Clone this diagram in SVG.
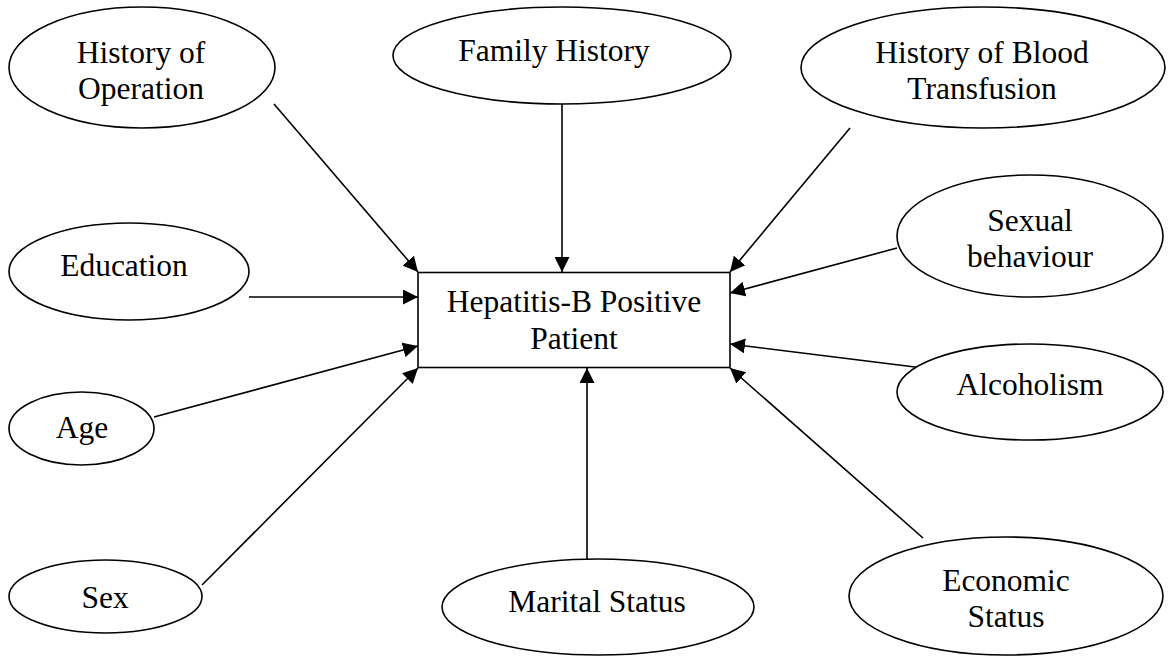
<svg xmlns="http://www.w3.org/2000/svg" width="1168" height="656" viewBox="0 0 1168 656">
<style>
.n ellipse, .n rect { fill: #fff; stroke: #000; stroke-width: 1.6; }
.t { font-family: "Liberation Serif", "Times New Roman", serif; font-size: 31.5px; fill: #000; text-anchor: middle; }
.c line { stroke: #000; stroke-width: 1.6; marker-end: url(#ah); }
</style>
<defs>
<marker id="ah" markerUnits="userSpaceOnUse" markerWidth="15" markerHeight="15" refX="15" refY="7.5" orient="auto" viewBox="0 0 15 15">
<path d="M0,0 L15,7.5 L0,15 z" fill="#000"/>
</marker>
</defs>
<rect width="1168" height="656" fill="#fff"/>
<g class="c" id="connectors">
<line x1="274" y1="104" x2="418" y2="272"/>
<line x1="562" y1="104" x2="562" y2="272"/>
<line x1="850" y1="128" x2="730" y2="272"/>
<line x1="249" y1="297" x2="418" y2="297"/>
<line x1="154" y1="417" x2="418" y2="346"/>
<line x1="202" y1="585" x2="418" y2="368"/>
<line x1="587" y1="560" x2="587" y2="368"/>
<line x1="923" y1="538" x2="730" y2="368"/>
<line x1="923" y1="368" x2="730" y2="344"/>
<line x1="897" y1="248" x2="730" y2="293"/>
</g>
<g class="n" id="center">
<rect x="418" y="272.5" width="312" height="95"/>
<text class="t" x="574" y="312">Hepatitis-B Positive</text>
<text class="t" x="574" y="349">Patient</text>
</g>
<g class="n" id="history-operation">
<ellipse cx="142" cy="67.5" rx="133" ry="60.5"/>
<text class="t" x="141" y="63">History of</text>
<text class="t" x="141" y="99">Operation</text>
</g>
<g class="n" id="family-history">
<ellipse cx="562" cy="55.5" rx="169" ry="48.5"/>
<text class="t" x="554" y="61">Family History</text>
</g>
<g class="n" id="blood-transfusion">
<ellipse cx="983" cy="67.5" rx="182" ry="60.5"/>
<text class="t" x="982" y="63">History of Blood</text>
<text class="t" x="982" y="99">Transfusion</text>
</g>
<g class="n" id="education">
<ellipse cx="129" cy="271.5" rx="120" ry="48.5"/>
<text class="t" x="124" y="276">Education</text>
</g>
<g class="n" id="sexual-behaviour">
<ellipse cx="1030" cy="236" rx="133" ry="61"/>
<text class="t" x="1030" y="231">Sexual</text>
<text class="t" x="1030" y="267">behaviour</text>
</g>
<g class="n" id="age">
<ellipse cx="81.5" cy="428.5" rx="72.5" ry="36.5"/>
<text class="t" x="82" y="438">Age</text>
</g>
<g class="n" id="alcoholism">
<ellipse cx="1030" cy="392" rx="133" ry="48"/>
<text class="t" x="1030" y="395">Alcoholism</text>
</g>
<g class="n" id="sex">
<ellipse cx="105.5" cy="596.5" rx="96.5" ry="36.5"/>
<text class="t" x="105" y="608">Sex</text>
</g>
<g class="n" id="marital-status">
<ellipse cx="598" cy="607" rx="156" ry="48"/>
<text class="t" x="597" y="612">Marital Status</text>
</g>
<g class="n" id="economic-status">
<ellipse cx="1006" cy="596" rx="157" ry="59"/>
<text class="t" x="1006" y="591">Economic</text>
<text class="t" x="1006" y="627">Status</text>
</g>
</svg>
